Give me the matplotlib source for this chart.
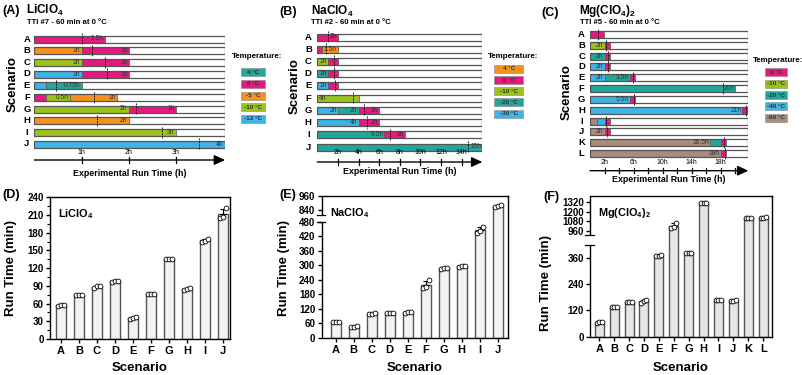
import numpy as np
import matplotlib
matplotlib.use("Agg")
import matplotlib.pyplot as plt
from matplotlib.patches import Rectangle

plt.rcParams["font.family"] = ["Liberation Sans", "DejaVu Sans"]
plt.rcParams["mathtext.fontset"] = "custom"
plt.rcParams["mathtext.rm"] = "Liberation Sans"
plt.rcParams["mathtext.bf"] = "Liberation Sans:bold"

W, H = 803, 375

PINK = "#E5197E"
ORANGE = "#F5921E"
GREEN = "#9CC31C"
TEAL = "#23A79B"
BLUE = "#3DB3E6"
BROWN = "#A88C7B"

# ---- top row: temperature programmes (hours) ----
li_rows = list("ABCDEFGHIJ")
li_temps = ["4 °C", "0 °C", "-5 °C", "-10 °C", "-12 °C"]
li_colors = [TEAL, PINK, ORANGE, GREEN, BLUE]
li_segments = [
    [("0 °C", 1.5, "1.5h")],
    [("-5 °C", 1, "1h"), ("0 °C", 1, "1h")],
    [("-10 °C", 1, "1h"), ("0 °C", 1, "1h")],
    [("-12 °C", 1, "1h"), ("0 °C", 1, "1h")],
    [("-12 °C", 0.25, ""), ("4 °C", 0.75, "0.75h")],
    [("0 °C", 0.25, ""), ("-10 °C", 0.5, "0.5h"), ("-5 °C", 1, "1h")],
    [("-10 °C", 2, "2h"), ("0 °C", 1, "1h")],
    [("-5 °C", 2, "2h")],
    [("-10 °C", 3, "3h")],
    [("-12 °C", 4.05, "4h")],
]
li_observed_h = [1.0, 1.22, 1.5, 1.55, 0.45, 1.27, 2.15, 1.32, 2.72, 3.5]
li_axis_h = 4.05

na_rows = list("ABCDEFGHIJ")
na_temps = ["4 °C", "0 °C", "-10 °C", "-20 °C", "-30 °C"]
na_colors = [ORANGE, PINK, GREEN, TEAL, BLUE]
na_segments = [
    [("0 °C", 2, "2h")],
    [("0 °C", 0.5, ""), ("4 °C", 1.5, "1.5h")],
    [("-10 °C", 1, "1h"), ("0 °C", 1, "")],
    [("-20 °C", 1, "1h"), ("0 °C", 1, "")],
    [("-30 °C", 1, "1h"), ("0 °C", 1, "")],
    [("-10 °C", 4, "4h", "left")],
    [("-30 °C", 2, "2h"), ("-20 °C", 2, "2h"), ("0 °C", 2, "2h")],
    [("-30 °C", 4, "4h"), ("0 °C", 2, "2h")],
    [("-20 °C", 6.5, "6.5h"), ("0 °C", 2, "2h")],
    [("-20 °C", 16, "15h")],
]
na_observed_h = [1.06, 0.83, 1.6, 1.65, 1.75, 3.5, 4.55, 4.85, 7.05, 14.6]
na_axis_h = 16

mg_rows = list("ABCDEFGHIJKL")
mg_temps = ["0 °C", "-10 °C", "-20 °C", "-40 °C", "-60 °C"]
mg_colors = [PINK, GREEN, TEAL, BLUE, BROWN]
mg_segments = [
    [("0 °C", 1.9, "")],
    [("-10 °C", 2, "2h"), ("0 °C", 0.75, "")],
    [("-20 °C", 2, "2h"), ("0 °C", 0.75, "")],
    [("-40 °C", 2, "2h"), ("0 °C", 0.75, "")],
    [("-40 °C", 2, "2h"), ("-20 °C", 3.5, "3.5h"), ("0 °C", 0.75, "")],
    [("-20 °C", 20, "20h")],
    [("-40 °C", 5.5, "5.5h"), ("0 °C", 0.75, "")],
    [("-40 °C", 21, "21h"), ("0 °C", 0.8, "")],
    [("-60 °C", 1, ""), ("-40 °C", 1, ""), ("0 °C", 0.75, "")],
    [("-60 °C", 2, "2h"), ("0 °C", 0.75, "")],
    [("-60 °C", 16.5, "16.5h"), ("-20 °C", 1.5, ""), ("0 °C", 0.75, "")],
    [("-60 °C", 18, "18h"), ("0 °C", 0.75, "")],
]
mg_observed_h = [1.08, 2.14, 2.46, 2.46, 5.9, 18.3, 6.03, 21.5, 2.23, 2.37, 18.4, 18.55]
mg_axis_h = 21.8

# ---- bottom row: measured run times (min), three replicates ----
li_runs = [[56, 57, 58], [74, 75, 75], [87, 89, 90], [97, 98, 98], [34, 35, 37],
           [76, 77, 77], [135, 135, 136], [83, 84, 86], [165, 166, 170], [205, 207, 222]]
na_runs = [[64, 65, 66], [44, 45, 47], [99, 100, 102], [101, 102, 102], [104, 105, 106],
           [206, 210, 238], [286, 287, 288], [294, 295, 296], [433, 440, 460], [868, 875, 880]]
mg_runs = [[63, 65, 66], [134, 135, 136], [158, 159, 160], [155, 165, 168], [369, 371, 372],
           [1000, 1012, 1058], [382, 383, 384], [1308, 1312, 1314], [166, 167, 168],
           [164, 165, 166], [1120, 1122, 1124], [1127, 1128, 1130]]

fig = plt.figure(figsize=(W / 100, H / 100), dpi=100)


def fx(x):
    return x / W


def fy(y):
    return 1 - y / H


def px_rect(x0, y0, x1, y1):
    return [x0 / W, 1 - y1 / H, (x1 - x0) / W, (y1 - y0) / H]


def draw_gantt(rows, segments, observed, temps, colors, axis_h, ticks, labelled,
               x0, x1, yc0, yc1, arrow_y, tick_y, xlab_y, letter_x):
    n = len(rows)
    sp = (yc1 - yc0) / (n - 1)
    ax = fig.add_axes(px_rect(x0, yc0 - sp / 2, x1, yc1 + sp / 2))
    ax.set_xlim(0, axis_h)
    ax.set_ylim(n - 0.5, -0.5)
    ax.axis("off")
    cmap = dict(zip(temps, colors))
    bh = 7.0 / sp
    pad = axis_h * 0.006
    for i, row in enumerate(segments):
        left = 0.0
        for seg in row:
            temp, dur, lab = seg[0], seg[1], seg[2]
            ax.barh(i, dur, left=left, height=bh, color=cmap[temp],
                    edgecolor="#5a5a5a", linewidth=0.5, zorder=2)
            if lab:
                if len(seg) > 3:
                    ax.text(left + pad * 2, i, lab, ha="left", va="center",
                            fontsize=4.8, color="#333333", zorder=4)
                else:
                    ax.text(left + dur - pad, i, lab, ha="right", va="center",
                            fontsize=4.8, color="#333333", zorder=4)
            left += dur
        ax.barh(i, axis_h, height=bh, facecolor="none", edgecolor="#555555",
                linewidth=0.9, zorder=3)
        ax.plot([observed[i]] * 2, [i - 0.5, i + 0.5], color="k", lw=0.6,
                ls=(0, (2.2, 1.4)), zorder=5, clip_on=False)
        fig.text(fx(letter_x), fy(yc0 + i * sp), rows[i], ha="center", va="center",
                 fontsize=6.8, fontweight="bold")
    ya = n - 1 + (arrow_y - yc1) / sp
    yt = n - 1 + (tick_y - yc1) / sp
    ax.annotate("", xy=(axis_h, ya), xytext=(0, ya),
                arrowprops=dict(arrowstyle="-|>,head_length=0.65,head_width=0.3",
                                color="k", lw=1.0, shrinkA=0, shrinkB=0,
                                mutation_scale=10),
                annotation_clip=False)
    for t in ticks:
        ax.plot([t, t], [ya - 2.6 / sp, ya + 2.6 / sp], color="k", lw=0.9, clip_on=False)
    for t in labelled:
        ax.text(t, yt, f"{t:g}h", ha="center", va="center", fontsize=5, clip_on=False)
    fig.text(fx((x0 + x1) / 2), fy(xlab_y), "Experimental Run Time (h)", ha="center",
             va="center", fontsize=6.4, fontweight="bold")


def draw_legend(temps, colors, title_x, title_y, bx0, bx1, centers):
    fig.text(fx(title_x), fy(title_y), "Temperature:", fontsize=5.8,
             fontweight="bold", ha="left", va="center")
    for t, c, yc in zip(temps, colors, centers):
        fig.add_artist(Rectangle((fx(bx0), fy(yc + 4)), (bx1 - bx0) / W, 8 / H,
                                 transform=fig.transFigure, facecolor=c,
                                 edgecolor="#888888", lw=0.4))
        fig.text(fx((bx0 + bx1) / 2), fy(yc), t, fontsize=4.6, ha="center",
                 va="center", color="#333333", fontweight="bold")


def piecewise(vals, pxs):
    vals = np.asarray(vals, float)
    pxs = np.asarray(pxs, float)
    s0 = (pxs[1] - pxs[0]) / (vals[1] - vals[0])
    s1 = (pxs[-1] - pxs[-2]) / (vals[-1] - vals[-2])
    v = np.r_[vals[0] - 1e6, vals, vals[-1] + 1e6]
    p = np.r_[pxs[0] - 1e6 * s0, pxs, pxs[-1] + 1e6 * s1]

    def fwd(y):
        y = np.asarray(y, float)
        return np.interp(y.ravel(), v, p).reshape(y.shape)

    def inv(q):
        q = np.asarray(q, float)
        return np.interp(q.ravel(), p, v).reshape(q.shape)

    return fwd, inv


def draw_runs(rect, cats, runs, xlim, ylim, yticks, name, width, fill,
              mapping=None, gap=None, minor=None):
    ax = fig.add_axes(px_rect(*rect))
    x = np.arange(len(cats))
    runs = np.asarray(runs, float)
    means = runs.mean(axis=1)
    sd = runs.std(axis=1, ddof=1)
    if mapping is not None:
        ax.set_yscale("function", functions=piecewise(*mapping))
    ax.bar(x, means, width=width, color=fill, edgecolor="#555555", lw=1.0, zorder=2)
    ax.errorbar(x, means, yerr=[np.zeros_like(sd), sd], fmt="none", ecolor="k",
                elinewidth=0.8, capsize=2, capthick=0.8, zorder=3)
    for j, off in enumerate([-0.17, 0.0, 0.17]):
        ax.scatter(x + off, runs[:, j], s=12, facecolor="white", edgecolor="k",
                   linewidth=0.6, zorder=4)
    ax.set_xlim(*xlim)
    ax.set_ylim(*ylim)
    ax.set_yticks(yticks)
    if minor is not None:
        ax.set_yticks(minor, minor=True)
    ax.set_xticks(x)
    ax.set_xticklabels(cats)
    ax.tick_params(axis="y", labelsize=7, length=3, width=1, pad=1.5)
    ax.tick_params(axis="y", which="minor", length=2, width=0.8)
    ax.tick_params(axis="x", labelsize=8, length=3, width=1, pad=2)
    for lab in ax.get_xticklabels() + ax.get_yticklabels():
        lab.set_fontweight("bold")
    for s in ax.spines.values():
        s.set_linewidth(1.0)
    if gap is not None:
        ax.spines["left"].set_visible(False)
        tr = ax.get_yaxis_transform()
        ax.plot([0, 0], [ylim[0], gap[0]], transform=tr, color="k", lw=1.0,
                clip_on=False, solid_capstyle="butt")
        ax.plot([0, 0], [gap[1], ylim[1]], transform=tr, color="k", lw=1.0,
                clip_on=False, solid_capstyle="butt")
        for g in gap:
            ax.plot([-0.025, 0.02], [g, g], transform=tr, color="k", lw=0.9,
                    clip_on=False)
    ax.text(0.045, 0.93, name, transform=ax.transAxes, ha="left", va="top",
            fontsize=7.8, fontweight="bold")
    return ax


# ---- titles ----
for lab, x, y in [("(A)", 2, 11), ("(B)", 279, 12), ("(C)", 541, 13),
                  ("(D)", 2, 195), ("(E)", 279, 195), ("(F)", 543, 197)]:
    fig.text(fx(x), fy(y), lab, fontsize=9, fontweight="bold", ha="left", va="center")

for txt, x, y in [(r"LiClO$_\mathbf{4}$", 26, 10), (r"NaClO$_\mathbf{4}$", 311, 11),
                  (r"Mg(ClO$_\mathbf{4}$)$_\mathbf{2}$", 579, 11)]:
    fig.text(fx(x), fy(y), txt, fontsize=8.5, fontweight="bold", ha="left", va="center")

for txt, x, y in [("TTI #7 - 60 min at 0 °C", 27, 22), ("TTI #2 - 60 min at 0 °C", 311, 22),
                  ("TTI #5 - 60 min at 0 °C", 580, 22)]:
    fig.text(fx(x), fy(y), txt, fontsize=5.6, fontweight="bold", ha="left", va="center")

for x, y in [(12.5, 84), (295, 86), (567, 92)]:
    fig.text(fx(x), fy(y), "Scenario", fontsize=9.5, fontweight="bold", rotation=90,
             ha="center", va="center")

# ---- gantt panels ----
draw_gantt(li_rows, li_segments, li_observed_h, li_temps, li_colors, li_axis_h,
           [1, 2, 3], [1, 2, 3], 34.5, 225, 39, 144, 160, 152.5, 173, 27)
draw_gantt(na_rows, na_segments, na_observed_h, na_temps, na_colors, na_axis_h,
           list(range(2, 15, 2)), list(range(2, 15, 2)), 317.3, 482.3, 37, 147,
           162, 153, 172, 308.3)
draw_gantt(mg_rows, mg_segments, mg_observed_h, mg_temps, mg_colors, mg_axis_h,
           list(range(2, 21, 2)), [2, 6, 10, 14, 18], 590, 748.3, 34.3, 153.7,
           170.7, 162.5, 180, 581.7)

draw_legend(li_temps, li_colors, 231.5, 56.7, 240.7, 265, [72, 83.5, 95.5, 107.3, 119])
draw_legend(na_temps, na_colors, 488, 56.7, 494.3, 523.3, [68.7, 80, 91.3, 102.3, 113.7])
draw_legend(mg_temps, mg_colors, 753, 61, 765, 786.7, [72.3, 83.7, 95, 106.3, 117.7])

# ---- bar panels ----
draw_runs((50, 197.3, 230, 339), li_rows, li_runs, (-0.6, 9.37), (0, 240),
          list(range(0, 241, 30)), r"LiClO$_\mathbf{4}$", 0.55, "#f3f3f3",
          minor=list(range(15, 240, 30)))
draw_runs((321.7, 196, 508, 337.7), na_rows, na_runs, (-0.78, 9.57), (0, 960),
          list(range(0, 481, 60)) + [840, 960], r"NaClO$_\mathbf{4}$", 0.58, "#f3f3f3",
          mapping=([0, 480, 800, 960], [0, 116, 123, 141.7]), gap=(480, 800))
draw_runs((590, 196, 771.7, 336.7), mg_rows, mg_runs, (-0.62, 11.57), (0, 1400),
          [0, 120, 240, 360, 960, 1080, 1200, 1320], r"Mg(ClO$_\mathbf{4}$)$_\mathbf{2}$",
          0.6, "#e6e6e6",
          mapping=([0, 420, 910, 1400], [0, 91.7, 101.7, 140.5]), gap=(420, 910))

for x, y in [(11.5, 268), (284.5, 268), (546.5, 283)]:
    fig.text(fx(x), fy(y), "Run Time (min)", fontsize=9.5, fontweight="bold",
             rotation=90, ha="center", va="center")
for x in [140, 415, 681]:
    fig.text(fx(x), fy(368), "Scenario", fontsize=9.5, fontweight="bold",
             ha="center", va="center")

fig.savefig("out.png", dpi=100)
